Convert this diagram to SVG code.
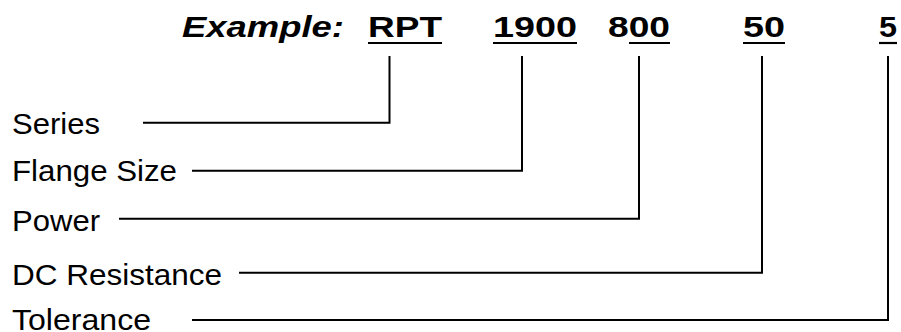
<svg xmlns="http://www.w3.org/2000/svg" width="901" height="332" viewBox="0 0 901 332">
<style>
.t{font-family:"Liberation Sans",Arial,sans-serif;font-size:29px;fill:#000}
.b{font-weight:bold}
.i{font-style:italic}
.c{fill:none;stroke:#000;stroke-width:2}
.u{stroke:#000;stroke-width:2.2}
</style>
<rect width="901" height="332" fill="#fff"/>
<g id="title">
<text class="t b i" x="182" y="36.5" textLength="162" lengthAdjust="spacingAndGlyphs">Example:</text>
</g>
<g id="code-rpt">
<text class="t b" x="368" y="36.5" textLength="74" lengthAdjust="spacingAndGlyphs">RPT</text>
<line class="u" x1="368" y1="43" x2="442" y2="43"/>
</g>
<g id="code-1900">
<text class="t b" x="493" y="36.5" textLength="84" lengthAdjust="spacingAndGlyphs">1900</text>
<line class="u" x1="493" y1="43" x2="577" y2="43"/>
</g>
<g id="code-800">
<text class="t b" x="608" y="36.5" textLength="62" lengthAdjust="spacingAndGlyphs">800</text>
<line class="u" x1="629" y1="43" x2="670" y2="43"/>
</g>
<g id="code-50">
<text class="t b" x="743" y="36.5" textLength="42" lengthAdjust="spacingAndGlyphs">50</text>
<line class="u" x1="743" y1="43" x2="785" y2="43"/>
</g>
<g id="code-5">
<text class="t b" x="879" y="36.5" textLength="18" lengthAdjust="spacingAndGlyphs">5</text>
<line class="u" x1="879" y1="43" x2="897" y2="43"/>
</g>
<g id="label-series"><text class="t" x="12" y="134" textLength="88" lengthAdjust="spacingAndGlyphs">Series</text></g>
<g id="label-flange"><text class="t" x="12" y="181" textLength="165" lengthAdjust="spacingAndGlyphs">Flange Size</text></g>
<g id="label-power"><text class="t" x="12" y="231" textLength="88" lengthAdjust="spacingAndGlyphs">Power</text></g>
<g id="label-dc"><text class="t" x="12" y="284.5" textLength="210" lengthAdjust="spacingAndGlyphs">DC Resistance</text></g>
<g id="label-tolerance"><text class="t" x="12" y="329.5" textLength="139" lengthAdjust="spacingAndGlyphs">Tolerance</text></g>
<g id="connectors">
<path class="c" d="M143,122.7 H389.5 V56"/>
<path class="c" d="M192,170.7 H522 V56"/>
<path class="c" d="M119,218.7 H639 V56"/>
<path class="c" d="M239,272.7 H762 V56"/>
<path class="c" d="M192,320 H888 V56"/>
</g>
</svg>
